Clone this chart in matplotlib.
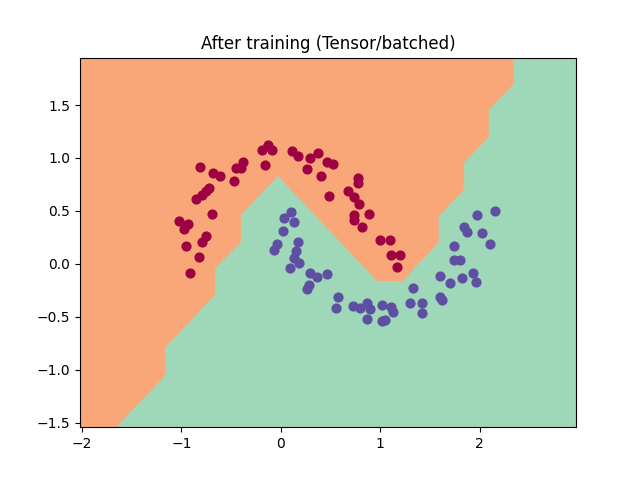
import matplotlib
matplotlib.use("Agg")
import matplotlib.pyplot as plt
import numpy as np

# moon points (class 0 = red, class 1 = purple)
red_x = [-0.188, -0.128, -0.088, -0.154, -0.816, -0.682, -0.614, -0.380, -0.446, -0.396,
         -0.473, -0.722, -0.755, -0.789, -0.849, -0.692, -1.027, -0.934, -0.977, -0.748,
         -0.793, -0.950, -0.823, -0.916, 0.114, 0.174, 0.292, 0.370, 0.259, 0.460,
         0.527, 0.403, 0.778, 0.772, 0.678, 0.483, 0.738, 0.785, 0.738, 0.886,
         0.738, 0.813, 0.997, 1.098, 1.108, 1.198, 1.165]
red_y = [1.075, 1.122, 1.075, 0.933, 0.912, 0.861, 0.832, 0.965, 0.902, 0.902,
         0.785, 0.719, 0.688, 0.650, 0.610, 0.471, 0.405, 0.373, 0.329, 0.263,
         0.209, 0.171, 0.068, -0.089, 1.066, 1.021, 0.997, 1.050, 0.893, 0.965,
         0.943, 0.830, 0.808, 0.761, 0.688, 0.641, 0.634, 0.565, 0.461, 0.468,
         0.414, 0.351, 0.222, 0.222, 0.084, 0.084, -0.027]

purple_x = [0.101, 0.032, 0.133, 0.023, -0.035, -0.068, 0.171, 0.158, 0.133, 0.183,
            0.091, 0.292, 0.368, 0.463, 0.285, 0.259, 0.577, 0.551, 0.728, 0.796,
            0.863, 0.896, 0.863, 1.014, 1.108, 1.131, 1.020, 1.047, 1.332, 1.299,
            1.417, 1.420, 1.971, 2.155, 1.843, 1.876, 2.021, 2.105, 1.745, 1.745,
            1.803, 1.601, 1.702, 1.820, 1.937, 1.964, 1.601, 1.618]
purple_y = [0.485, 0.430, 0.398, 0.310, 0.183, 0.126, 0.202, 0.121, 0.051, 0.005,
            -0.042, -0.082, -0.121, -0.099, -0.200, -0.242, -0.310, -0.420, -0.398, -0.420,
            -0.367, -0.429, -0.524, -0.389, -0.405, -0.458, -0.540, -0.530, -0.231, -0.367,
            -0.367, -0.467, 0.461, 0.499, 0.351, 0.304, 0.288, 0.185, 0.169, 0.036,
            0.036, -0.115, -0.178, -0.136, -0.089, -0.174, -0.310, -0.341]

# decision boundary (staircase from the coarse grid), bottom-left to top-right
boundary_x = [-1.649, -1.158, -1.158, -0.655, -0.655, -0.396, -0.396, -0.027,
              0.967, 1.226, 1.594, 1.594, 1.846, 1.846, 2.098, 2.098, 2.346, 2.346]
boundary_y = [-1.543, -1.056, -0.792, -0.294, -0.042, 0.203, 0.461, 0.823,
              -0.169, -0.169, 0.203, 0.445, 0.697, 0.949, 1.201, 1.453, 1.695, 1.948]

X_LIM = (-2.02, 2.97)
Y_LIM = (-1.543, 1.948)

fig, ax = plt.subplots(figsize=(6.4, 4.8), dpi=100)

ax.set_facecolor("#f9a679")
poly_x = boundary_x + [X_LIM[1], X_LIM[1]]
poly_y = boundary_y + [Y_LIM[1], Y_LIM[0]]
ax.fill(poly_x, poly_y, color="#9fd8b8", edgecolor="#a8d5b0", linewidth=0.8)

ax.scatter(red_x, red_y, s=40, color="#9e0142", zorder=3)
ax.scatter(purple_x, purple_y, s=40, color="#5e4fa2", zorder=3)

ax.set_xlim(*X_LIM)
ax.set_ylim(*Y_LIM)
ax.set_title("After training (Tensor/batched)")

plt.savefig("out.png", dpi=100)
plt.close()
